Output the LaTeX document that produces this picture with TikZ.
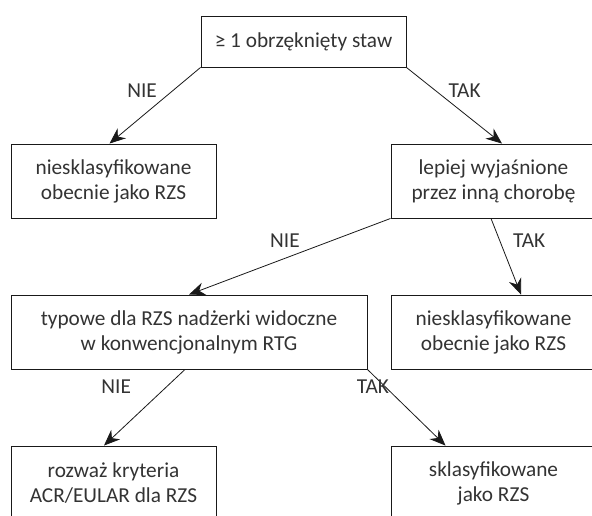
\documentclass[tikz,border=0pt]{standalone}
\usepackage{fontspec}
\setmainfont{Carlito}
\usetikzlibrary{arrows.meta}

\begin{document}
\begin{tikzpicture} [
    x = 1pt, y = -1pt,
    font = \fontsize{21.3}{25}\selectfont,
    b/.style = {rectangle, draw=black!90, line width=0.9pt, text=black!80, align=center, minimum width=205pt, minimum height=74pt, inner sep=0pt},
    arrow/.style = {draw=black!90, line width=0.8pt, -{Stealth[length=16pt, width=13pt]}},
    lbl/.style = {inner sep=0pt, text=black!80}
    ]
    \useasboundingbox (0,0) rectangle (592,515);
    \clip (0,0) rectangle (592,515);

    \node[b, minimum height=51pt](swollen) at (303.5,41.5) {≥ 1 obrzęknięty staw};
    \node[b](notRA) at (113.5,181) {niesklasyfikowane\\obecnie jako RZS};
    \node[b](other) at (493.5,181) {lepiej wyjaśnione\\przez inną chorobę};
    \node[b, minimum width=356pt](erosion) at (189,332) {typowe dla RZS nadżerki widoczne\\w konwencjonalnym RTG};
    \node[b](notRAb) at (493.5,332) {niesklasyfikowane\\obecnie jako RZS};
    \node[b](criteria) at (113.5,483) {rozważ kryteria\\ACR/EULAR dla RZS};
    \node[b](isRA) at (493.5,483) {sklasyfikowane\\jako RZS};

    \draw[arrow] (swollen.south west) -- node[lbl, pos=0.3, left=16pt] {NIE} ([xshift=-4pt]notRA.north);
    \draw[arrow] (swollen.south east) -- node[lbl, pos=0.3, right=13pt] {TAK} ([xshift=8.5pt]other.north);
    \draw[arrow] (other.south west) -- node[lbl, pos=0.29, left=32pt] {NIE} (erosion.north);
    \draw[arrow] ([xshift=-2.5pt]other.south) -- node[lbl, pos=0.29, right=13pt] {TAK} ([xshift=27.5pt]notRAb.north);
    \draw[arrow] ([xshift=-4pt]erosion.south) -- node[lbl, pos=0.23, left=35pt] {NIE} ([xshift=-9.5pt]criteria.north);
    \draw[arrow] (erosion.south east) -- node[lbl, pos=0.23, left=-4pt] {TAK} ([xshift=-48pt]isRA.north);

\end{tikzpicture}
\end{document}
